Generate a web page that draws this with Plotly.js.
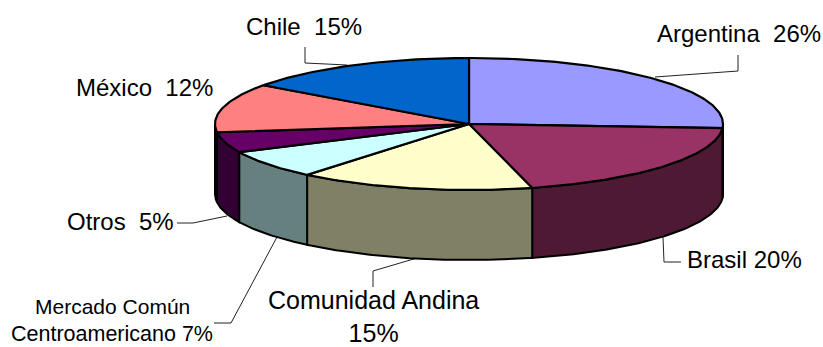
<!DOCTYPE html>
<html>
<head>
<meta charset="utf-8">
<script src="https://cdn.plot.ly/plotly-3.0.1.min.js"></script>
<style>html,body{margin:0;padding:0;background:#fff}#chart{width:823px;height:347px}</style>
</head>
<body>
<div id="chart"></div>
<script>
// Regional shares, clockwise from twelve o'clock
const categories = ['Argentina', 'Brasil', 'Comunidad Andina', 'Mercado Común Centroamericano', 'Otros', 'México', 'Chile'];
const shares = [26, 20, 15, 7, 5, 12, 15];
const topColors = ['#9999FF', '#993366', '#FFFFCC', '#CCFFFF', '#660066', '#FF8080', '#0066CC'];
const sideColors = ['#4D4D80', '#4D1933', '#808066', '#668080', '#330033', '#804040', '#003366'];

// Tilted disc geometry in pixel units
const cx = 469, cy = 124, rx = 254, ry = 66, depth = 70;

function rim(deg, drop) {
  const a = deg * Math.PI / 180;
  return [cx + rx * Math.sin(a), cy - ry * Math.cos(a) + drop];
}
function arc(from, to, drop) {
  const n = Math.max(2, Math.ceil(Math.abs(to - from) * 1.5));
  const pts = [];
  for (let i = 0; i <= n; i++) pts.push(rim(from + (to - from) * i / n, drop));
  return pts;
}
function face(pts, color, width) {
  return {
    type: 'scatter', mode: 'lines', fill: 'toself', fillcolor: color,
    x: pts.map(p => p[0]), y: pts.map(p => p[1]),
    line: {color: '#000', width: width}, hoverinfo: 'skip', showlegend: false
  };
}

const total = shares.reduce((a, b) => a + b, 0);
const sideTraces = [], topTraces = [];
let start = 0;
shares.forEach((v, i) => {
  const end = start + v / total * 360;
  const lo = Math.max(start, 90), hi = Math.min(end, 270);
  if (hi > lo) {
    const upper = arc(lo, hi, 0), lower = arc(hi, lo, depth);
    const outline = upper.concat(lower);
    outline.push(upper[0]);
    sideTraces.push(face(outline, sideColors[i], 2));
  }
  const wedge = [[cx, cy]].concat(arc(start, end, 0));
  wedge.push([cx, cy]);
  topTraces.push(face(wedge, topColors[i], 2.2));
  start = end;
});

// Leader lines from the rim out to each label
const leaderPaths = [
  'M738,55 L738,71 L655,77',
  'M663,237 L664,262 L681,262',
  'M373,287 L373,271 L417,258',
  'M214,323 L231,323 L277,237',
  'M177,223 L193,223 L227,216',
  'M305,47 L305,63 L347,65'
];
const shapes = leaderPaths.map(path => ({
  type: 'path', path: path, xref: 'x', yref: 'y', layer: 'below',
  line: {color: '#222', width: 1}
}));

function label(text, x, y, size) {
  return {
    text: text, x: x, y: y, xref: 'x', yref: 'y', showarrow: false,
    xanchor: 'center', yanchor: 'middle',
    font: {family: 'Liberation Sans, Arial, sans-serif', size: size, color: '#000'}
  };
}
const annotations = [
  label(`${categories[0]}  ${shares[0]}%`, 738.5, 33, 24),
  label(`${categories[1]} ${shares[1]}%`, 744.5, 259, 24),
  label(`${categories[2]}<br>${shares[2]}%`, 373, 316, 25),
  label('Mercado Común', 112, 306, 21),
  label(`Centroamericano ${shares[3]}%`, 112, 334, 21.5),
  label(`${categories[4]}  ${shares[4]}%`, 120, 221, 24),
  label(`${categories[5]}  ${shares[5]}%`, 144.5, 87, 24),
  label(`${categories[6]}  ${shares[6]}%`, 304, 26, 24)
];

const hidden = {visible: false, fixedrange: true};
Plotly.newPlot('chart', sideTraces.concat(topTraces), {
  width: 823, height: 347,
  margin: {l: 0, r: 0, t: 0, b: 0},
  paper_bgcolor: '#fff', plot_bgcolor: '#fff',
  showlegend: false, hovermode: false,
  xaxis: Object.assign({range: [0, 823]}, hidden),
  yaxis: Object.assign({range: [347, 0]}, hidden),
  shapes: shapes, annotations: annotations
}, {displayModeBar: false, staticPlot: true});
</script>
</body>
</html>
